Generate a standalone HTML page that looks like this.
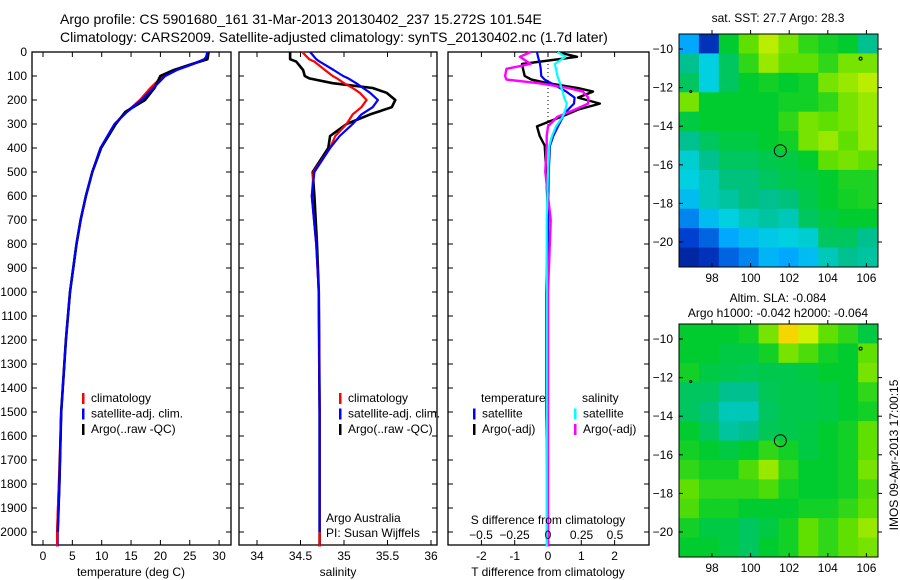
<!DOCTYPE html>
<html><head><meta charset="utf-8"><style>
body{margin:0;background:#fff}
svg{display:block;font-family:"Liberation Sans",sans-serif}
text{fill:#000}
</style></head><body>
<svg id="c" width="900" height="580" viewBox="0 0 900 580" xmlns="http://www.w3.org/2000/svg">
<text x="60" y="24" font-size="14">Argo profile: CS 5901680_161 31-Mar-2013 20130402_237 15.272S 101.54E</text>
<text x="60" y="42" font-size="14">Climatology: CARS2009. Satellite-adjusted climatology: synTS_20130402.nc (1.7d later)</text>
<g id="g"></g>
</svg>
<script>
// ---------- data ----------
const tDepth=[0,20,30,50,75,100,150,200,250,300,400,500,600,700,800,1000,1200,1500,1800,2000,2060];
const tClim=[28.2,28.0,27.5,25.5,22.5,20.4,18.3,16.5,14.2,12.2,9.8,8.4,7.3,6.4,5.7,4.6,3.9,3.1,2.7,2.4,2.4];
const tSat=[28.0,27.8,27.5,25.6,22.8,20.8,18.8,16.8,14.3,12.2,9.8,8.4,7.3,6.4,5.7,4.6,3.9,3.1,2.8,2.5,2.5];
const tArgo=[28.2,28.1,28.0,25.4,22.3,20.0,19.0,17.4,14.0,12.4,9.9,8.4,7.3,6.4,5.7,4.6,3.9,3.1,2.8,2.5,2.5];
const sDepth=[0,30,40,75,100,110,130,150,170,200,230,260,300,350,400,500,600,800,1000,1500,2000,2060];
const sClim=[34.52,34.6,34.66,34.78,34.87,34.92,35.0,35.1,35.18,35.26,35.2,35.1,35.03,34.9,34.84,34.65,34.63,34.68,34.71,34.72,34.72,34.72];
const sSat=[34.61,34.68,34.72,34.88,34.99,35.05,35.14,35.22,35.3,35.39,35.33,35.2,35.1,34.95,34.84,34.66,34.63,34.68,34.71,34.72,34.72,34.72];
const sArgo=[34.38,34.38,34.45,34.53,34.55,34.6,34.87,35.33,35.49,35.59,35.55,35.3,35.03,34.84,34.82,34.64,34.66,34.69,34.71,34.72,34.72,34.72];
const dDepth=[0,20,50,70,100,115,130,150,165,190,215,240,270,310,350,390,500,700,1000,1500,2000,2060];
const dTSat=[-0.33,-0.3,-0.24,-0.22,-0.2,-0.1,0.1,0.36,0.55,0.8,0.78,0.6,0.45,0.3,0.16,0.06,0.02,0.0,-0.02,-0.03,-0.03,-0.03];
const dTArgo=[0.27,0.87,-0.78,-0.75,-0.7,-0.5,0.0,0.9,1.35,0.9,1.56,0.9,0.4,-0.33,-0.25,-0.1,-0.05,0.0,-0.05,-0.05,0.0,0.0];
const dSSat=[0.07,0.13,0.05,0.06,0.07,0.08,0.09,0.1,0.11,0.12,0.14,0.13,0.11,0.06,0.03,0.01,0.0,-0.01,-0.01,-0.01,-0.01,-0.01];
const dSArgo=[-0.13,-0.21,-0.13,-0.31,-0.32,-0.31,-0.07,0.15,0.26,0.3,0.3,0.2,0.07,0.0,-0.01,-0.01,-0.02,0.02,0.0,0.0,0.0,0.0];
const depthTicks=[0,100,200,300,400,500,600,700,800,900,1000,1100,1200,1300,1400,1500,1600,1700,1800,1900,2000];
const tempTicks=[0,5,10,15,20,25,30];
const salTicks=[34,34.5,35,35.5,36];
const dTTicks=[-2,-1,0,1,2];
const dSTicks=[-0.5,-0.25,0,0.25,0.5];
const latTicks=[-10,-12,-14,-16,-18,-20];
const lonTicks=[98,100,102,104,106];
const sstGrid=[
[0.3,0.1,0.6,0.7,0.78,0.72,0.65,0.62,0.6,0.5],
[0.5,0.4,0.55,0.65,0.75,0.7,0.7,0.65,0.72,0.72],
[0.55,0.4,0.55,0.6,0.62,0.6,0.62,0.72,0.75,0.78],
[0.72,0.6,0.6,0.6,0.6,0.62,0.62,0.65,0.72,0.75],
[0.58,0.6,0.6,0.6,0.6,0.65,0.72,0.7,0.72,0.75],
[0.5,0.55,0.58,0.58,0.6,0.62,0.72,0.75,0.7,0.75],
[0.42,0.5,0.55,0.55,0.57,0.58,0.6,0.7,0.72,0.7],
[0.4,0.45,0.52,0.52,0.55,0.57,0.58,0.6,0.63,0.63],
[0.35,0.45,0.48,0.52,0.5,0.52,0.57,0.6,0.62,0.63],
[0.25,0.35,0.4,0.45,0.48,0.45,0.55,0.58,0.6,0.6],
[0.15,0.2,0.3,0.35,0.38,0.4,0.42,0.55,0.55,0.5],
[0.05,0.1,0.2,0.25,0.33,0.3,0.35,0.45,0.5,0.48]];
const slaGrid=[
[0.6,0.6,0.6,0.62,0.72,0.88,0.8,0.7,0.65,0.58],
[0.6,0.6,0.58,0.58,0.62,0.72,0.68,0.62,0.6,0.7],
[0.62,0.58,0.57,0.56,0.57,0.57,0.58,0.6,0.6,0.72],
[0.55,0.55,0.5,0.5,0.56,0.57,0.57,0.58,0.6,0.65],
[0.55,0.52,0.45,0.45,0.55,0.57,0.57,0.58,0.6,0.62],
[0.6,0.55,0.48,0.5,0.56,0.57,0.58,0.6,0.62,0.7],
[0.62,0.6,0.58,0.6,0.65,0.62,0.58,0.6,0.62,0.7],
[0.65,0.62,0.62,0.68,0.75,0.65,0.6,0.6,0.62,0.72],
[0.7,0.65,0.65,0.65,0.68,0.62,0.6,0.6,0.62,0.68],
[0.68,0.62,0.62,0.6,0.6,0.6,0.62,0.62,0.65,0.7],
[0.62,0.58,0.58,0.55,0.58,0.62,0.7,0.65,0.7,0.75],
[0.6,0.6,0.58,0.55,0.6,0.62,0.7,0.65,0.7,0.72]];
const argoLon=101.54, argoLat=-15.27;

// ---------- drawing ----------
const NS="http://www.w3.org/2000/svg";
const G=document.getElementById('g');
function el(t,a,p){const e=document.createElementNS(NS,t);for(const k in a)e.setAttribute(k,a[k]);(p||G).appendChild(e);return e;}
function txt(x,y,s,anchor,size){const e=el('text',{x:x,y:y,'font-size':size||12,'text-anchor':anchor||'start'});e.textContent=s;return e;}
const yD=d=>52+d*0.24;
const yTop=52,bot=545;
function frame(x0,x1,name){const r=el('rect',{x:x0,y:yTop,width:x1-x0,height:bot-yTop,fill:'none',stroke:'#000','stroke-width':1.3});

}
function line(xs,ds,fx,col,w,name){const pts=xs.map((v,i)=>fx(v).toFixed(1)+','+yD(ds[i]).toFixed(1)).join(' ');
const p=el('polyline',{points:pts,fill:'none',stroke:col,'stroke-width':w||2.2,'stroke-linejoin':'round'});

}
function yticks(x0,x1,labels){depthTicks.forEach(d=>{const y=yD(d);el('line',{x1:x0,y1:y,x2:x0+5,y2:y,stroke:'#000'});el('line',{x1:x1,y1:y,x2:x1-5,y2:y,stroke:'#000'});
if(labels){const t=txt(27,y+4,String(d),'end');

}});}
function xticks(ticks,fx,lab){ticks.forEach(v=>{const x=fx(v);el('line',{x1:x,y1:bot,x2:x,y2:bot-5,stroke:'#000'});el('line',{x1:x,y1:yTop,x2:x,y2:yTop+5,stroke:'#000'});
if(lab){const t=txt(x,560,String(v),'middle');

}});}
function legend(x,y,items){items.forEach((it,i)=>{el('rect',{x:x,y:y+i*15.5-9,width:2.5,height:11,fill:it[1]});const t=txt(x+9,y+i*15.5,it[0]);

});}

// panel 1 temperature
const fT=v=>43+v*5.87;
frame(32,231,'temperature-panel');yticks(32,231,true);xticks(tempTicks,fT,true);
line(tClim,tDepth,fT,'#f00',2.2,'temp-climatology-line');
line(tSat,tDepth,fT,'#00f',2.2,'temp-satellite-line');
line(tArgo.slice(0,20),tDepth.slice(0,20),fT,'#000',2.6,'temp-argo-line');
line(tClim.slice(18),tDepth.slice(18),fT,'#f00',2.2,'temp-climatology-deep');
line(tSat.slice(0,20),tDepth.slice(0,20),fT,'#00f',2.2,'temp-satellite-top');
legend(82,402,[['climatology','#f00'],['satellite-adj. clim.','#00f'],['Argo(..raw -QC)','#000']]);
txt(131,576,'temperature (deg C)','middle');

// panel 2 salinity
const fS=v=>257+(v-34)*87;
frame(239,437,'salinity-panel');yticks(239,437,false);xticks(salTicks,fS,true);
line(sArgo,sDepth,fS,'#000',2.6,'sal-argo-line');
line(sClim,sDepth,fS,'#f00',2.2,'sal-climatology-line');
line(sSat.slice(0,21),sDepth.slice(0,21),fS,'#00f',2.2,'sal-satellite-line');
legend(339,402,[['climatology','#f00'],['satellite-adj. clim.','#00f'],['Argo(..raw -QC)','#000']]);
txt(326,522,'Argo Australia');txt(326,537,'PI: Susan Wijffels');
txt(338,576,'salinity','middle');

// panel 3 differences
const fDT=v=>548+v*33.3, fDS=v=>548+v*134;
frame(448,649,'difference-panel');yticks(448,649,false);xticks(dTTicks,fDT,true);
el('line',{x1:548,y1:yTop,x2:548,y2:yD(320),stroke:'#000','stroke-dasharray':'1,3'});
line(dTArgo,dDepth,fDT,'#000',2.4,'tdiff-argo-line');
line(dTSat,dDepth,fDT,'#00f',2.2,'tdiff-satellite-line');
line(dSArgo,dDepth,fDS,'#f0f',2.4,'sdiff-argo-line');
line(dSSat,dDepth,fDS,'#0ff',2.2,'sdiff-satellite-line');
txt(481,402,'temperature');txt(582,402,'salinity');
legend(473,417.5,[['satellite','#00f'],['Argo(-adj)','#000']]);
legend(574,417.5,[['satellite','#0ff'],['Argo(-adj)','#f0f']]);
txt(548,524,'S difference from climatology','middle');
dSTicks.forEach(v=>{const t=txt(fDS(v),539,String(v).replace('-','\u2212'),'middle');

});
txt(548,576,'T difference from climatology','middle');

// maps
const stops=[[0,[0,26,140]],[0.15,[0,64,208]],[0.3,[0,168,255]],[0.4,[0,208,224]],[0.5,[0,192,144]],[0.6,[0,204,48]],[0.7,[96,224,0]],[0.8,[208,240,0]],[0.9,[255,208,0]],[1,[255,128,0]]];
function cmap(v){for(let i=1;i<stops.length;i++){if(v<=stops[i][0]){const a=stops[i-1],b=stops[i],t=(v-a[0])/(b[0]-a[0]);return 'rgb('+a[1].map((c,k)=>Math.round(c+(b[1][k]-c)*t)).join(',')+')';}}return 'rgb(255,128,0)';}
function drawMap(y0,grid,name){const x0=679,x1=878,y1=y0+233;
const fx=lon=>712+(lon-98)*19.3, fy=lat=>y0+15+(-10-lat)*19.3;
const rows=grid.length,cols=grid[0].length,cw=(x1-x0)/cols,ch=(y1-y0)/rows;
grid.forEach((row,r)=>row.forEach((v,c)=>{const e=el('rect',{x:x0+c*cw,y:y0+r*ch,width:cw+0.5,height:ch+0.5,fill:cmap(v)});

}));
const f=el('rect',{x:x0,y:y0,width:x1-x0,height:y1-y0,fill:'none',stroke:'#000'});


latTicks.forEach(l=>{const y=fy(l);el('line',{x1:x0,y1:y,x2:x0+4,y2:y,stroke:'#000'});el('line',{x1:x1,y1:y,x2:x1+4,y2:y,stroke:'#000'});txt(673,y+4,String(l).replace('-','\u2212'),'end');});
lonTicks.forEach(l=>{const x=fx(l);el('line',{x1:x,y1:y1,x2:x,y2:y1-4,stroke:'#000'});el('line',{x1:x,y1:y0,x2:x,y2:y0-4,stroke:'#000'});txt(x,y1+15,String(l),'middle');});
const c=el('circle',{cx:fx(argoLon),cy:fy(argoLat),r:6,fill:'none',stroke:'#000'});


el('circle',{cx:fx(105.7),cy:fy(-10.5),r:1.5,fill:'none',stroke:'#000'});
el('circle',{cx:fx(96.9),cy:fy(-12.2),r:1,fill:'none',stroke:'#000'});}
drawMap(34,sstGrid,'sst-map');
drawMap(324,slaGrid,'sla-map');
txt(778,22,'sat. SST: 27.7 Argo: 28.3','middle');
txt(778,302,'Altim. SLA: -0.084','middle');
txt(778,317,'Argo h1000: -0.042 h2000: -0.064','middle');
const rot=txt(0,0,'IMOS 09-Apr-2013 17:00:15','middle');rot.setAttribute('transform','translate(898,455) rotate(-90)');


</script>
</body></html>
